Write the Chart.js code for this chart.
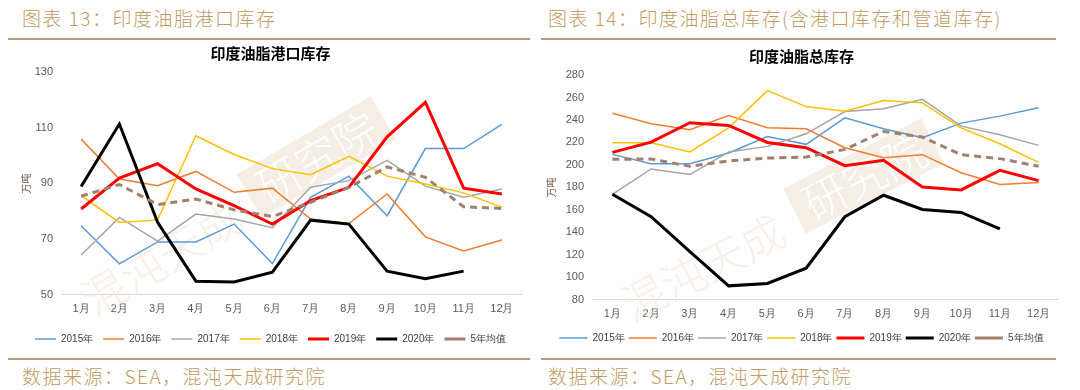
<!DOCTYPE html>
<html>
<head>
<meta charset="utf-8">
<script src="https://cdn.jsdelivr.net/npm/chart.js@4.4.0/dist/chart.umd.min.js"></script>
<style>
  body { margin: 0; width: 1080px; height: 390px; background: #fff; position: relative; overflow: hidden; font-family: "Noto Sans CJK SC", sans-serif; }
  .hd { position: absolute; top: 4px; font-size: 19px; color: #bf9a62; letter-spacing: 1.5px; font-weight: 300; white-space: nowrap; }
  .src { position: absolute; top: 362px; font-size: 19px; color: #bf9a62; letter-spacing: 1.5px; font-weight: 300; white-space: nowrap; }
  .rule { position: absolute; height: 2px; background: #b8a07c; }
  .box { position: absolute; }
</style>
</head>
<body>
<div class="hd" style="left:22px">图表 13：印度油脂港口库存</div>
<div class="hd" style="left:548px">图表 14：印度油脂总库存(含港口库存和管道库存)</div>
<div class="rule" style="left:8px;width:522px;top:38px"></div>
<div class="rule" style="left:541px;width:515px;top:38px"></div>

<div class="box" style="left:0px;top:42px;width:526px;height:312px"><canvas id="portChart" width="526" height="312"></canvas></div>
<div class="box" style="left:540px;top:42px;width:520px;height:311px"><canvas id="totalChart" width="520" height="311"></canvas></div>

<div class="rule" style="left:8px;width:522px;top:358px"></div>
<div class="rule" style="left:541px;width:515px;top:358px"></div>
<div class="src" style="left:22px">数据来源：SEA，混沌天成研究院</div>
<div class="src" style="left:548px">数据来源：SEA，混沌天成研究院</div>

<script>
// Categories and series names
const MONTHS = ['1月', '2月', '3月', '4月', '5月', '6月', '7月', '8月', '9月', '10月', '11月', '12月'];
const SERIES_NAMES = ['2015年', '2016年', '2017年', '2018年', '2019年', '2020年', '5年均值'];
const SERIES_COLORS = ['#5b9bd5', '#ed7d31', '#a5a5a5', '#ffc000', '#ff0000', '#000000', '#a1806d'];
const SERIES_WIDTHS = [1.5, 1.5, 1.5, 1.5, 3, 3, 3];

// Chart 13: port stocks (万吨)
const PORT_TICKS = [50, 70, 90, 110, 130];
const port2015 = [74.8, 61.1, 69.0, 69.0, 75.4, 61.2, 85.0, 92.6, 78.4, 102.5, 102.5, 111.2];
const port2016 = [105.9, 91.6, 89.2, 94.3, 86.8, 88.3, 77.2, 75.6, 86.2, 70.8, 65.7, 69.7];
const port2017 = [64.3, 77.8, 69.3, 79.0, 77.2, 74.1, 88.6, 91.0, 98.3, 89.0, 85.0, 88.0];
const port2018 = [85.6, 76.0, 76.9, 107.1, 100.4, 95.3, 93.1, 99.7, 92.6, 89.8, 86.6, 81.4];
const port2019 = [80.8, 91.9, 97.1, 88.0, 82.0, 75.4, 83.8, 88.6, 106.7, 119.1, 88.3, 86.2];
const port2020 = [88.9, 111.3, 76.0, 54.9, 54.6, 58.1, 76.8, 75.4, 58.5, 55.8, 58.5, null];
const portAvg = [85.4, 89.6, 82.4, 84.4, 80.5, 78.1, 83.2, 88.6, 95.9, 92.2, 81.6, 81.0];

// Chart 14: total stocks (万吨)
const TOTAL_TICKS = [80, 100, 120, 140, 160, 180, 200, 220, 240, 260, 280];
const total2015 = [209.4, 201.1, 201.1, 210.6, 225.3, 218.3, 241.9, 232.1, 224.2, 237.2, 243.4, 250.8];
const total2016 = [246.0, 236.6, 231.3, 244.0, 233.0, 232.1, 215.3, 206.4, 209.1, 193.1, 182.5, 184.3];
const total2017 = [173.9, 196.4, 191.4, 211.5, 216.5, 227.7, 247.5, 249.9, 258.4, 234.5, 226.8, 217.4];
const total2018 = [219.7, 219.7, 211.5, 233.0, 266.1, 251.9, 247.8, 257.3, 255.2, 233.0, 218.8, 202.3];
const total2019 = [211.2, 220.3, 237.5, 235.1, 220.0, 215.3, 199.3, 204.1, 180.4, 177.8, 195.2, 186.0];
const total2020 = [173.9, 153.9, 122.8, 92.4, 94.5, 108.1, 153.9, 173.0, 160.4, 157.7, 143.2, null];
const totalAvg = [205.0, 205.3, 198.8, 203.5, 206.1, 207.0, 213.8, 229.8, 224.8, 209.1, 205.6, 198.8];

const FONT = '"Liberation Sans", Arial, sans-serif';
const CJK = '"Noto Sans CJK SC", sans-serif';

// Diagonal company watermark behind the lines
const watermarkPlugin = {
    id: 'watermark',
    beforeDatasetsDraw(chart, args, opts) {
        const ctx = chart.ctx;
        ctx.save();
        ctx.translate(opts.x, opts.y);
        ctx.rotate(opts.angle);
        ctx.textBaseline = 'middle';
        ctx.font = '200 44px ' + CJK;
        ctx.fillStyle = 'rgba(240,230,214,0.6)';
        ctx.fillText('混沌天成', -195, 8);
        ctx.fillStyle = 'rgba(236,226,210,0.6)';
        ctx.fillRect(0, -26, 155, 50);
        ctx.fillStyle = '#ffffff';
        ctx.fillText('研究院', 12, 0);
        ctx.restore();
    }
};

function buildChart(id, titleText, ticks, rows, cfg) {
    const datasets = rows.map((data, i) => ({
        label: SERIES_NAMES[i],
        data: data,
        borderColor: SERIES_COLORS[i],
        backgroundColor: SERIES_COLORS[i],
        borderWidth: SERIES_WIDTHS[i],
        borderDash: i === 6 ? [7, 5] : [],
        pointRadius: 0,
        tension: 0,
        fill: false,
        spanGaps: false,
        order: 7 - i
    }));

    return new Chart(document.getElementById(id), {
        type: 'line',
        data: { labels: MONTHS, datasets: datasets },
        options: {
            responsive: false,
            animation: false,
            layout: { padding: cfg.padding },
            plugins: {
                title: {
                    display: true,
                    text: titleText,
                    color: '#000',
                    font: { size: 15, weight: 'bold', family: CJK },
                    padding: { top: cfg.titleTop, bottom: cfg.titleBottom }
                },
                legend: {
                    position: 'bottom',
                    labels: {
                        usePointStyle: true,
                        pointStyle: 'line',
                        pointStyleWidth: cfg.legendLine,
                        boxHeight: 10,
                        color: '#404040',
                        font: { size: 10, family: FONT },
                        padding: cfg.legendPad,
                        sort: (a, b) => a.datasetIndex - b.datasetIndex
                    }
                },
                tooltip: { enabled: false },
                watermark: cfg.watermark
            },
            scales: {
                x: {
                    offset: true,
                    grid: { display: false, drawTicks: false },
                    border: { color: '#d9d9d9', width: 1 },
                    ticks: { color: '#595959', font: { size: 11, family: FONT }, padding: 8, maxRotation: 0, autoSkip: false }
                },
                y: {
                    min: ticks[0],
                    max: ticks[ticks.length - 1],
                    afterBuildTicks: scale => { scale.ticks = ticks.map(v => ({ value: v })); },
                    afterFit: scale => { scale.width = cfg.yWidth; },
                    grid: { display: false, drawTicks: false },
                    border: { display: false },
                    ticks: { color: '#595959', font: { size: 11, family: FONT }, padding: cfg.tickPad },
                    title: {
                        display: true,
                        text: '万吨',
                        color: '#6f5a4c',
                        font: { size: 10, family: CJK },
                        padding: { top: 0, bottom: 0 }
                    }
                }
            }
        },
        plugins: [watermarkPlugin]
    });
}

buildChart('portChart', '印度油脂港口库存', PORT_TICKS,
    [port2015, port2016, port2017, port2018, port2019, port2020, portAvg],
    {
        padding: { left: 20, right: 5, top: 0, bottom: 0 },
        titleTop: 2, titleBottom: 10,
        yWidth: 42, tickPad: 9, legendLine: 21, legendPad: 10,
        watermark: { x: 250, y: 155, angle: -0.53 }
    });

buildChart('totalChart', '印度油脂总库存', TOTAL_TICKS,
    [total2015, total2016, total2017, total2018, total2019, total2020, totalAvg],
    {
        padding: { left: 5, right: 2, top: 0, bottom: 0 },
        titleTop: 5, titleBottom: 10,
        yWidth: 48, tickPad: 9, legendLine: 28, legendPad: 4,
        watermark: { x: 255, y: 170, angle: -0.47 }
    });
</script>
</body>
</html>
